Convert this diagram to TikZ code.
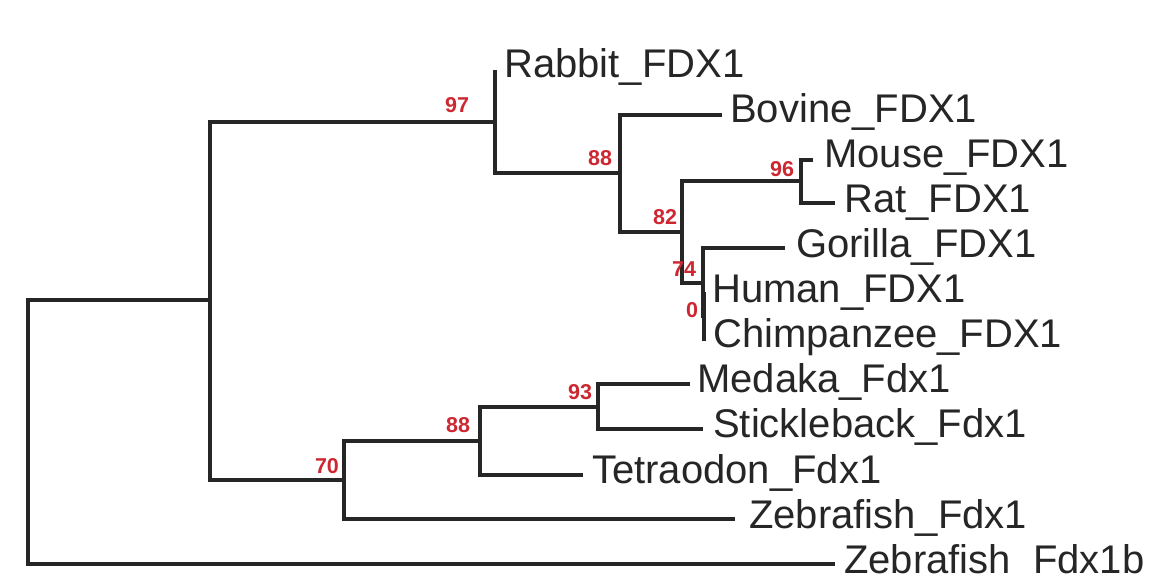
\documentclass[tikz,border=0pt]{standalone}
\usepackage{fontspec}
\setmainfont{Liberation Sans}
\definecolor{bootred}{RGB}{205,40,50}
\definecolor{inkc}{RGB}{38,38,38}
\begin{document}
\begin{tikzpicture}[x=1pt,y=-1pt,
  branch/.style={draw=inkc, line width=3.2pt, line join=miter},
  leaf/.style={font=\fontsize{40}{40}\selectfont, text=inkc, inner sep=0pt, anchor=base west},
  boot/.style={font=\fontsize{21.5}{21.5}\selectfont\bfseries, text=bootred, inner sep=0pt}]
\useasboundingbox (0,0) rectangle (1152,577);
\fill[white] (0,0) rectangle (1152,577);
% internal nodes
\coordinate (root) at (28,431);
\coordinate (nA) at (210,300);
\coordinate (n97) at (495,122);
\coordinate (n88a) at (620,173);
\coordinate (n82) at (682,232);
\coordinate (n96) at (801,181);
\coordinate (n74) at (703,283);
\coordinate (nhc) at (704,316);
\coordinate (n70) at (344,480);
\coordinate (n88b) at (480,441);
\coordinate (n93) at (598,407);
% leaf tips
\coordinate (tRabbit) at (495,70);
\coordinate (tBovine) at (722,115);
\coordinate (tMouse) at (813,160);
\coordinate (tRat) at (835,203);
\coordinate (tGorilla) at (785,248);
\coordinate (tHuman) at (706,294);
\coordinate (tChimp) at (706,339);
\coordinate (tMedaka) at (690,384);
\coordinate (tStickle) at (703,429);
\coordinate (tTetra) at (583,475);
\coordinate (tZf) at (735,519);
\coordinate (tZfb) at (835,564);
% branches
\draw[branch] (root) |- (nA);
\draw[branch] (root) |- (tZfb);
\draw[branch] (nA) |- (n97);
\draw[branch] (nA) |- (n70);
\draw[branch] (n97) |- (tRabbit);
\draw[branch] (n97) |- (n88a);
\draw[branch] (n88a) |- (tBovine);
\draw[branch] (n88a) |- (n82);
\draw[branch] (n82) |- (n96);
\draw[branch] (n82) |- (n74);
\draw[branch] (n96) |- (tMouse);
\draw[branch] (n96) |- (tRat);
\draw[branch] (n74) |- (tGorilla);
\draw[branch] (n74) |- (nhc);
\draw[branch] (nhc) |- (tHuman);
\draw[branch] (nhc) |- (tChimp);
\draw[branch] (n70) |- (n88b);
\draw[branch] (n70) |- (tZf);
\draw[branch] (n88b) |- (n93);
\draw[branch] (n88b) |- (tTetra);
\draw[branch] (n93) |- (tMedaka);
\draw[branch] (n93) |- (tStickle);
% leaf labels
\node[leaf] (lRabbit) at (504,78) {Rabbit\_FDX1};
\node[leaf] (lBovine) at (730,123) {Bovine\_FDX1};
\node[leaf] (lMouse) at (824,168) {Mouse\_FDX1};
\node[leaf] (lRat) at (844,213) {Rat\_FDX1};
\node[leaf] (lGorilla) at (796,258) {Gorilla\_FDX1};
\node[leaf] (lHuman) at (712,303) {Human\_FDX1};
\node[leaf] (lChimp) at (713,348) {Chimpanzee\_FDX1};
\node[leaf] (lMedaka) at (697,393) {Medaka\_Fdx1};
\node[leaf] (lStickle) at (713,438) {Stickleback\_Fdx1};
\node[leaf] (lTetra) at (592,483) {Tetraodon\_Fdx1};
\node[leaf] (lZf) at (749,528) {Zebrafish\_Fdx1};
\node[leaf] (lZfb) at (844,573) {Zebrafish\_Fdx1b};
% bootstrap values
\node[boot] (b97) at (457,105) {97};
\node[boot] (b88a) at (600,158) {88};
\node[boot] (b82) at (665,217) {82};
\node[boot] (b96) at (782,169) {96};
\node[boot] (b74) at (684,269) {74};
\node[boot] (b0) at (692,310) {0};
\node[boot] (b93) at (580,392) {93};
\node[boot] (b88b) at (458,425) {88};
\node[boot] (b70) at (327,466) {70};
\end{tikzpicture}
\end{document}
